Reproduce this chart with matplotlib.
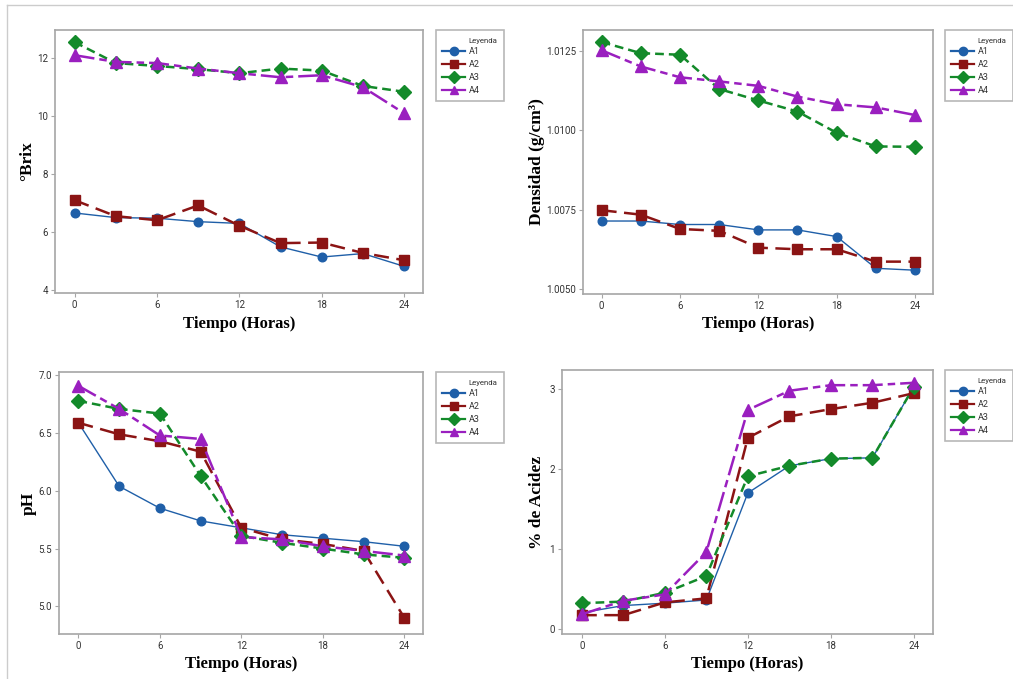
import matplotlib
matplotlib.use("Agg")
import matplotlib.pyplot as plt
from matplotlib.lines import Line2D
from matplotlib import font_manager

tiempo = [0, 3, 6, 9, 12, 15, 18, 21, 24]
series_names = ["A1", "A2", "A3", "A4"]

brix = {
    "A1": [6.66, 6.50, 6.48, 6.36, 6.30, 5.49, 5.14, 5.26, 4.82],
    "A2": [7.10, 6.55, 6.41, 6.92, 6.22, 5.62, 5.64, 5.28, 5.03],
    "A3": [12.55, 11.83, 11.73, 11.62, 11.48, 11.64, 11.57, 11.04, 10.84],
    "A4": [12.10, 11.87, 11.83, 11.64, 11.48, 11.34, 11.41, 11.00, 10.10],
}
densidad = {
    "A1": [1.00714, 1.00714, 1.00703, 1.00703, 1.00686, 1.00686, 1.00665, 1.00565, 1.00559],
    "A2": [1.00748, 1.00734, 1.00689, 1.00683, 1.00630, 1.00625, 1.00625, 1.00586, 1.00586],
    "A3": [1.01278, 1.01243, 1.01238, 1.01130, 1.01094, 1.01059, 1.00992, 1.00949, 1.00948],
    "A4": [1.01252, 1.01201, 1.01167, 1.01154, 1.01140, 1.01106, 1.01082, 1.01072, 1.01048],
}
ph = {
    "A1": [6.59, 6.04, 5.85, 5.74, 5.68, 5.62, 5.59, 5.56, 5.52],
    "A2": [6.59, 6.49, 6.43, 6.34, 5.68, 5.58, 5.54, 5.48, 4.90],
    "A3": [6.78, 6.71, 6.67, 6.13, 5.61, 5.55, 5.50, 5.45, 5.42],
    "A4": [6.91, 6.71, 6.48, 6.45, 5.60, 5.58, 5.52, 5.48, 5.44],
}
acidez = {
    "A1": [0.20, 0.29, 0.32, 0.36, 1.70, 2.04, 2.13, 2.14, 3.03],
    "A2": [0.17, 0.17, 0.33, 0.38, 2.39, 2.66, 2.75, 2.83, 2.95],
    "A3": [0.32, 0.34, 0.45, 0.66, 1.91, 2.04, 2.13, 2.14, 3.03],
    "A4": [0.18, 0.35, 0.43, 0.96, 2.74, 2.98, 3.05, 3.05, 3.08],
}

x_ticks = [0, 6, 12, 18, 24]
x_label = "Tiempo (Horas)"
legend_title = "Leyenda"

styles = {
    "A1": dict(color="#1f5fa8", ls="-", lw=1.0, marker="o", ms=6.2),
    "A2": dict(color="#8b1414", ls=(0, (6, 3)), lw=1.8, marker="s", ms=6.8),
    "A3": dict(color="#138a2a", ls=(0, (3.5, 2)), lw=1.8, marker="D", ms=7),
    "A4": dict(color="#9a1fbf", ls=(0, (8, 2, 3, 2)), lw=1.8, marker="^", ms=8.2),
}

avail = {f.name for f in font_manager.fontManager.ttflist}
tick_family = ["Liberation Sans Narrow"] if "Liberation Sans Narrow" in avail else ["Roboto"]
tick_family = tick_family + ["DejaVu Sans"]

fig = plt.figure(figsize=(10.13, 6.79), dpi=100)

W, H = 1013, 679
def fbox(l, t, r, b):
    return [l / W, 1 - b / H, (r - l) / W, (b - t) / H]

panels = [
    dict(data=brix, box=(55, 30, 423, 293), ylim=(3.9, 12.97), yticks=[4, 6, 8, 10, 12],
         yfmt="{:g}", ylabel="°Brix", leg=(436, 30), ylx=35),
    dict(data=densidad, box=(583, 30, 933, 294), ylim=(1.00484, 1.01316),
         yticks=[1.0050, 1.0075, 1.0100, 1.0125], yfmt="{:.4f}",
         ylabel="Densidad (g/cm³)", leg=(945, 30), ylx=545),
    dict(data=ph, box=(59, 372, 423, 634), ylim=(4.76, 7.03), yticks=[5.0, 5.5, 6.0, 6.5, 7.0],
         yfmt="{:.1f}", ylabel="pH", leg=(436, 372), ylx=37),
    dict(data=acidez, box=(562, 370, 933, 634), ylim=(-0.066, 3.24), yticks=[0, 1, 2, 3],
         yfmt="{:g}", ylabel="% de Acidez", leg=(945, 370), ylx=545),
]

spine_col = "#a6a6a6"
serif = ["Liberation Serif", "DejaVu Serif"]

for p in panels:
    ax = fig.add_axes(fbox(*p["box"]))
    for name in series_names:
        st = styles[name]
        ax.plot(tiempo, p["data"][name], color=st["color"], ls=st["ls"], lw=st["lw"],
                marker=st["marker"], ms=st["ms"], label=name, zorder=3)
    ax.set_xlim(-1.43, 25.38)
    ax.set_ylim(*p["ylim"])
    ax.set_xticks(x_ticks)
    ax.set_xticklabels([str(t) for t in x_ticks])
    ax.set_yticks(p["yticks"])
    ax.set_yticklabels([p["yfmt"].format(v) for v in p["yticks"]])
    for s in ax.spines.values():
        s.set_color(spine_col)
        s.set_linewidth(1.2)
    ax.tick_params(direction="out", length=3, width=0.8, color=spine_col,
                   labelsize=7, labelcolor="#333333", pad=2)
    for lab in ax.get_xticklabels() + ax.get_yticklabels():
        lab.set_family(tick_family)
    ax.set_xlabel(x_label, fontsize=12, fontweight="bold", family=serif, labelpad=4)
    ax.set_ylabel(p["ylabel"], fontsize=12.5, fontweight="bold", family=serif)
    l, t, r, b = p["box"]
    ax.yaxis.set_label_coords(p["ylx"] / W, 1 - (t + b) / 2 / H, transform=fig.transFigure)

    ll, lt = p["leg"]
    handles = [Line2D([], [], alpha=0)] + [
        Line2D([0], [0], color=styles[n]["color"], ls="-", lw=1.6,
               marker=styles[n]["marker"], ms=6) for n in series_names]
    leg = fig.legend(handles, [legend_title] + series_names, loc="upper left",
                     bbox_to_anchor=(ll / W, 1 - lt / H), bbox_transform=fig.transFigure,
                     prop=dict(family=tick_family, size=6.5),
                     frameon=True, fancybox=False, handlelength=2.5,
                     labelspacing=0.42, borderpad=0.7, handletextpad=0.4,
                     borderaxespad=0)
    leg.get_frame().set_edgecolor(spine_col)
    leg.get_frame().set_linewidth(1.2)
    for tx in leg.get_texts():
        tx.set_color("#333333")
    leg.get_texts()[0].set_fontsize(5.6)

# outer frame lines
fig.add_artist(Line2D([7 / W, 1], [1 - 5 / H, 1 - 5 / H], color="#cccccc", lw=1.0,
                      transform=fig.transFigure))
fig.add_artist(Line2D([7 / W, 7 / W], [0, 1 - 5 / H], color="#cccccc", lw=1.0,
                      transform=fig.transFigure))

fig.savefig("out.png", dpi=100)
